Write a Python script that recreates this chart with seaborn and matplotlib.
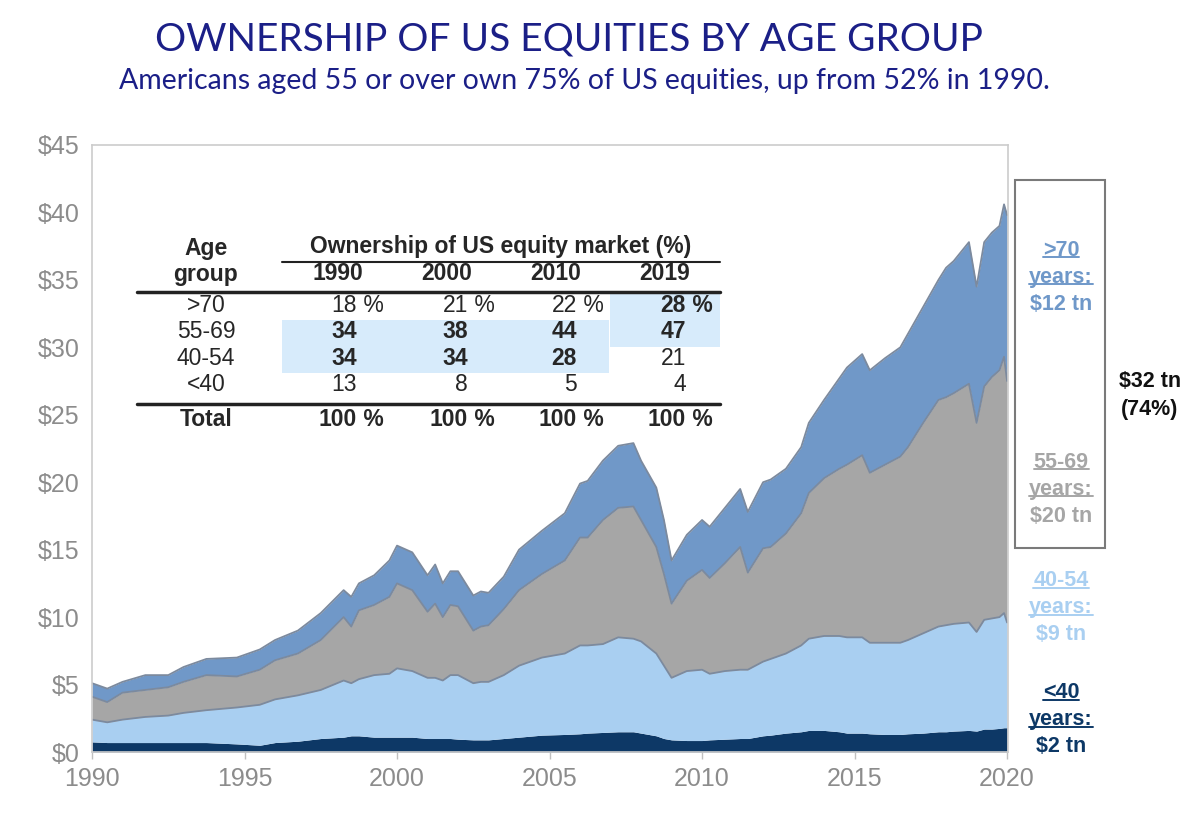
import matplotlib
matplotlib.use("Agg")
import pandas as pd
import matplotlib.pyplot as plt
from matplotlib.lines import Line2D
from matplotlib.patches import Rectangle
import seaborn as sns

# Equity holdings by age group, $ trillion
years = [1990.0, 1990.5, 1991.0, 1991.75, 1992.5, 1993.0, 1993.75, 1994.75, 1995.5, 1996.0,
         1996.75, 1997.5, 1998.25, 1998.5, 1998.75, 1999.25, 1999.75, 2000.0, 2000.5, 2001.0,
         2001.25, 2001.5, 2001.75, 2002.0, 2002.5, 2002.75, 2003.0, 2003.5, 2004.0, 2004.75,
         2005.5, 2006.0, 2006.25, 2006.75, 2007.25, 2007.75, 2008.0, 2008.5, 2008.75, 2009.0,
         2009.5, 2010.0, 2010.25, 2010.75, 2011.25, 2011.5, 2012.0, 2012.25, 2012.75, 2013.25,
         2013.5, 2014.0, 2014.5, 2014.75, 2015.25, 2015.5, 2016.0, 2016.5, 2016.75, 2017.25,
         2017.75, 2018.0, 2018.25, 2018.75, 2019.0, 2019.25, 2019.5, 2019.75, 2019.9, 2020.0]
under_40 = [0.75, 0.7, 0.7, 0.7, 0.7, 0.7, 0.7, 0.6, 0.5, 0.7,
            0.8, 1.0, 1.1, 1.2, 1.2, 1.1, 1.1, 1.1, 1.1, 1.0,
            1.0, 1.0, 1.0, 0.95, 0.9, 0.9, 0.9, 1.0, 1.1, 1.25,
            1.3, 1.35, 1.4, 1.45, 1.5, 1.5, 1.4, 1.2, 1.0, 0.9,
            0.85, 0.85, 0.9, 0.95, 1.0, 1.0, 1.2, 1.25, 1.4, 1.5,
            1.6, 1.6, 1.5, 1.4, 1.4, 1.35, 1.3, 1.3, 1.35, 1.4,
            1.5, 1.5, 1.55, 1.6, 1.55, 1.7, 1.7, 1.75, 1.8, 1.8]
age_40_54 = [1.65, 1.5, 1.7, 1.9, 2.0, 2.2, 2.4, 2.7, 3.0, 3.2,
             3.4, 3.6, 4.2, 3.9, 4.2, 4.6, 4.7, 5.1, 4.9, 4.5,
             4.5, 4.3, 4.7, 4.75, 4.2, 4.3, 4.3, 4.7, 5.3, 5.75,
             6.0, 6.55, 6.5, 6.55, 7.0, 6.9, 6.8, 6.1, 5.4, 4.6,
             5.15, 5.25, 4.9, 5.05, 5.1, 5.1, 5.5, 5.65, 5.9, 6.4,
             6.8, 7.0, 7.1, 7.1, 7.1, 6.75, 6.8, 6.8, 6.95, 7.4,
             7.8, 7.9, 7.95, 8.0, 7.35, 8.1, 8.2, 8.25, 8.5, 7.8]
age_55_69 = [1.7, 1.5, 2.0, 2.0, 2.1, 2.3, 2.6, 2.3, 2.6, 2.9,
             3.1, 3.7, 4.7, 4.2, 5.1, 5.2, 5.7, 6.3, 6.0, 4.9,
             5.5, 4.7, 5.2, 5.1, 3.9, 4.1, 4.2, 4.9, 5.6, 6.2,
             6.9, 8.0, 8.0, 9.2, 9.6, 9.8, 9.0, 7.9, 6.8, 5.5,
             6.7, 7.4, 7.1, 8.0, 9.1, 7.2, 8.4, 8.3, 8.9, 9.8,
             10.8, 11.7, 12.4, 12.8, 13.5, 12.6, 13.2, 13.8, 14.3, 15.6,
             16.8, 16.9, 17.1, 17.7, 15.5, 17.3, 17.9, 18.3, 19.0, 17.9]
over_70 = [1.0, 1.0, 0.8, 1.1, 0.9, 1.1, 1.2, 1.4, 1.5, 1.5,
           1.7, 2.0, 2.0, 2.2, 2.0, 2.2, 2.7, 2.8, 2.8, 2.7,
           2.9, 2.5, 2.5, 2.6, 2.6, 2.6, 2.4, 2.4, 3.0, 3.2,
           3.5, 4.0, 4.2, 4.4, 4.6, 4.7, 4.4, 4.4, 4.0, 3.2,
           3.4, 3.7, 3.8, 4.1, 4.3, 4.5, 4.9, 5.0, 4.8, 4.9,
           5.2, 5.8, 6.7, 7.2, 7.5, 7.6, 7.9, 8.1, 8.4, 8.6,
           8.9, 9.6, 9.8, 10.5, 10.1, 10.7, 10.7, 10.7, 11.3, 12.3]

group_names = ["<40", "40-54", "55-69", ">70"]
layer_colors = ["#0d3866", "#a9cff1", "#a6a6a6", "#7098c8"]

# Inset table: share of US equity market (%)
table_groups = [">70", "55-69", "40-54", "<40"]
table_years = ["1990", "2000", "2010", "2019"]
share_1990 = [18, 34, 34, 13]
share_2000 = [21, 38, 34, 8]
share_2010 = [22, 44, 28, 5]
share_2019 = [28, 47, 21, 4]
share_total = [100, 100, 100, 100]

# Right-hand labels (2019 holdings)
side_groups = [">70", "55-69", "40-54", "<40"]
side_values = ["$12 tn", "$20 tn", "$9 tn", "$2 tn"]

y_ticks = [0, 5, 10, 15, 20, 25, 30, 35, 40, 45]
x_ticks = [1990, 1995, 2000, 2005, 2010, 2015, 2020]

title_color = "#1b1f87"
tick_color = "#8c8c8c"
highlight = "#d7ebfb"

sns.set_theme(style="white")
plt.rcParams["font.family"] = ["Liberation Sans", "DejaVu Sans"]

W, H = 1200, 830
fig = plt.figure(figsize=(12, 8.3), dpi=100)


def px(x, y):
    return x / W, 1 - y / H


ax = fig.add_axes([92 / W, 1 - 752 / H, (1008 - 92) / W, (752 - 145) / H])

polys = ax.stackplot(years, under_40, age_40_54, age_55_69, over_70, colors=layer_colors)
for p in polys:
    p.set_linewidth(0)

# layer boundaries drawn with seaborn from the cumulative tops
df = pd.DataFrame({"year": years, "<40": under_40, "40-54": age_40_54,
                   "55-69": age_55_69, ">70": over_70})
cum = df.set_index("year")[group_names].cumsum(axis=1).reset_index()
long = cum.melt(id_vars="year", value_vars=["40-54", "55-69", ">70"],
                var_name="group", value_name="top")
sns.lineplot(data=long, x="year", y="top", hue="group", ax=ax, legend=False,
             palette=["#7c8a9e"] * 3, linewidth=1.3, estimator=None, sort=True)

ax.set_xlim(1990, 2020.03)
ax.set_ylim(0, 45)
ax.set_xticks(x_ticks)
ax.set_yticks(y_ticks)
ax.set_yticklabels([f"${v}" for v in y_ticks])
ax.set_xlabel("")
ax.set_ylabel("")
ax.tick_params(axis="y", length=0, pad=9, labelsize=18, labelcolor=tick_color)
ax.tick_params(axis="x", length=5, width=1, color="#c0c0c0", direction="out",
               pad=6, labelsize=18, labelcolor=tick_color, bottom=True)
for s in ax.spines.values():
    s.set_color("#cccccc")
    s.set_linewidth(1.2)

# titles
fig.text(*px(569, 40), "OWNERSHIP OF US EQUITIES BY AGE GROUP", ha="center", va="center",
         fontsize=28, color=title_color, family=["Lato", "DejaVu Sans"])
fig.text(*px(584, 81), "Americans aged 55 or over own 75% of US equities, up from 52% in 1990.",
         ha="center", va="center", fontsize=20.5, color=title_color, family=["Lato", "DejaVu Sans"])

# inset table
fs = 16.5
fig.add_artist(Rectangle(px(610, 347), 110 / W, 54 / H, transform=fig.transFigure,
                         facecolor=highlight, edgecolor="none", zorder=1))
fig.add_artist(Rectangle(px(282, 373), 327 / W, 53 / H, transform=fig.transFigure,
                         facecolor=highlight, edgecolor="none", zorder=1))

fig.text(*px(206, 248), "Age", ha="center", va="center", fontsize=fs, fontweight="bold")
fig.text(*px(206, 274), "group", ha="center", va="center", fontsize=fs, fontweight="bold")
fig.text(*px(501, 247), "Ownership of US equity market (%)", ha="center", va="center",
         fontsize=fs, fontweight="bold")

year_centers = [338, 447, 556, 665]
digit_right = [357, 468, 577, 686]
row_y = [305, 331, 358, 384]
shares = [share_1990, share_2000, share_2010, share_2019]

for xc, yr in zip(year_centers, table_years):
    fig.text(*px(xc, 274), yr, ha="center", va="center", fontsize=fs, fontweight="bold")

for i, (grp, yy) in enumerate(zip(table_groups, row_y)):
    fig.text(*px(206, yy), grp, ha="center", va="center", fontsize=fs)
    for j, col in enumerate(shares):
        bold = (j < 3 and i in (1, 2)) or (j == 3 and i in (0, 1))
        w = "bold" if bold else "normal"
        fig.text(*px(digit_right[j], yy), str(col[i]), ha="right", va="center",
                 fontsize=fs, fontweight=w)
        if i == 0:
            fig.text(*px(digit_right[j], yy), " %", ha="left", va="center",
                     fontsize=fs, fontweight=w)

fig.text(*px(206, 420), "Total", ha="center", va="center", fontsize=fs, fontweight="bold")
for j, tot in enumerate(share_total):
    fig.text(*px(digit_right[j], 420), str(tot), ha="right", va="center",
             fontsize=fs, fontweight="bold")
    fig.text(*px(digit_right[j], 420), " %", ha="left", va="center",
             fontsize=fs, fontweight="bold")

for (x0, x1, yy, lw) in [(282, 720, 262, 1.5), (137, 720, 292, 2.5), (137, 720, 404, 2.5)]:
    fig.add_artist(Line2D([x0 / W, x1 / W], [1 - yy / H] * 2, transform=fig.transFigure,
                          color="#222222", linewidth=lw))

# right-hand annotations
side_colors = ["#6f98c9", "#a6a6a6", "#a9cff1", "#0d3866"]
side_y = [250, 462, 580, 692]
underline = []
for grp, val, c, y0 in zip(side_groups, side_values, side_colors, side_y):
    t1 = fig.text(*px(1061, y0), grp, ha="center", va="center", fontsize=15.5,
                  fontweight="bold", color=c)
    t2 = fig.text(*px(1061, y0 + 27), "years:", ha="center", va="center", fontsize=15.5,
                  fontweight="bold", color=c)
    fig.text(*px(1061, y0 + 54), val, ha="center", va="center", fontsize=15.5,
             fontweight="bold", color=c)
    underline += [(t1, c), (t2, c)]

fig.add_artist(Rectangle(px(1015, 548), 90 / W, 368 / H, transform=fig.transFigure,
                         facecolor="none", edgecolor="#7a7a7a", linewidth=1.5))
fig.text(*px(1150, 381), "$32 tn", ha="center", va="center", fontsize=15.5,
         fontweight="bold", color="#111111")
fig.text(*px(1150, 410), "(74%)", ha="center", va="center", fontsize=15.5,
         fontweight="bold", color="#111111")

fig.canvas.draw()
r = fig.canvas.get_renderer()
for t, c in underline:
    bb = t.get_window_extent(r)
    yl = (bb.y0 + 3) / fig.bbox.height
    fig.add_artist(Line2D([bb.x0 / fig.bbox.width, bb.x1 / fig.bbox.width], [yl, yl],
                          transform=fig.transFigure, color=c, linewidth=1.4))

fig.savefig("out.png", dpi=100)
